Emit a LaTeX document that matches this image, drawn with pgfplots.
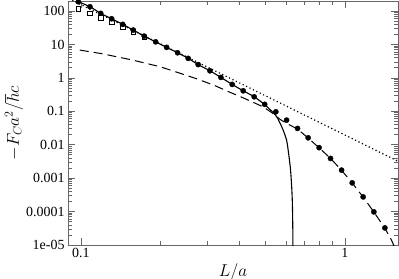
\documentclass[border=0pt]{standalone}
\usepackage{fontspec}
\setmainfont{Liberation Serif}
\usepackage{pgfplots}
\pgfplotsset{compat=1.18}
\pgfplotstableread{
x y
0.0977 189.8
0.1082 134.5
0.1188 85.3
0.1307 58.8
0.1439 40.0
0.1578 27.0
0.1737 17.8
0.1919 12.0
0.2112 8.19
0.2324 5.64
0.2549 3.84
0.2781 2.50
0.3081 1.63
0.3391 1.035
0.3742 0.638
0.4119 0.411
0.4533 0.272
0.4968 0.162
0.5477 0.0966
0.6014 0.0545
0.6618 0.0308
0.7261 0.0161
0.7991 0.00818
0.8826 0.00389
0.9716 0.00174
1.066 7.23e-4
1.173 2.75e-4
1.288 9.8e-5
1.418 3.25e-5
}\dots
\pgfplotstableread{
x y
0.0977 114.8
0.1082 85.3
0.1188 63.0
0.1307 45.9
0.1439 33.9
0.1578 23.5
0.1737 16.6
}\squares
\pgfplotstableread{
x y
0.0977 189.8
0.1082 134.5
0.1188 85.3
0.1307 58.8
0.1439 40.0
0.1578 27.0
0.1737 17.8
0.1919 12.0
0.2112 8.19
0.2324 5.64
0.2549 3.84
0.2781 2.50
0.3081 1.63
0.3391 1.035
0.3742 0.638
0.4119 0.411
0.4533 0.272
0.4968 0.158
0.5463 0.0769
0.5650 0.048
0.5838 0.02735
0.6014 0.01374
0.6098 0.00689
0.6226 0.00174
0.6315 2.75e-4
0.6350 3e-5
0.6370 1e-6
}\solid
\pgfplotstableread{
x y
0.099 6.8
0.12 5.3
0.156 3.45
0.2 2.15
0.2703 0.98
0.32 0.60
0.3614 0.39
0.40 0.28
0.45 0.185
0.4903 0.136
0.53 0.090
0.5672 0.058
0.60 0.044
0.6618 0.0295
0.7261 0.0158
0.7991 0.0081
0.8826 0.0039
0.9716 0.00172
1.066 7.2e-4
1.173 2.72e-4
1.288 9.7e-5
1.418 3.2e-5
1.503 1.39e-5
1.56 7e-6
}\dashed
\pgfplotstableread{
x y
0.09 235
1.6 0.00313
}\dotted
\begin{document}
\begin{tikzpicture}
\begin{axis}[
  at={(0,0)}, anchor=south west,
  xmode=log, ymode=log,
  width=330bp, height=244bp, scale only axis,
  xmin=0.0893, xmax=1.59, ymin=1e-5, ymax=200,
  xtick={0.1,1}, xticklabels={0.1,1},
  minor xtick={0.2,0.3,0.4,0.5,0.6,0.7,0.8,0.9},
  ytick={1e-5,1e-4,1e-3,1e-2,0.1,1,10,100},
  yticklabels={1e-05,0.0001,0.001,0.01,0.1,1,10,100},
  minor ytick={2e-5,3e-5,4e-5,5e-5,6e-5,7e-5,8e-5,9e-5,
    2e-4,3e-4,4e-4,5e-4,6e-4,7e-4,8e-4,9e-4,
    0.002,0.003,0.004,0.005,0.006,0.007,0.008,0.009,
    0.02,0.03,0.04,0.05,0.06,0.07,0.08,0.09,
    0.2,0.3,0.4,0.5,0.6,0.7,0.8,0.9,
    2,3,4,5,6,7,8,9,20,30,40,50,60,70,80,90},
  tick align=inside,
  major tick length=7bp, minor tick length=4bp,
  axis line style={black!60, line width=0.9bp},
  every tick/.style={black!60, line width=0.7bp},
  /pgf/number format/assume math mode=true,
  ticklabel style={font=\fontsize{14}{16}\selectfont, text=black},
  xlabel={$L/a$}, ylabel={$-F_C a^2/\hbar c$},
  label style={font=\fontsize{18}{20}\selectfont},
  xlabel style={at={(axis description cs:0.5,-0.112)}, anchor=center},
  ylabel style={at={(axis description cs:-0.1636,0.5)}, anchor=center},
]
\addplot[black, line width=1bp, dash pattern=on 9bp off 5bp] table {\dashed};
\addplot[black, line width=1.2bp, dash pattern=on 1.2bp off 2.6bp] table {\dotted};
\addplot[black, line width=1.1bp, smooth] table {\solid};
\addplot[only marks, mark=square, mark size=2.3bp, black, mark options={line width=0.6bp, fill=white}] table {\squares};
\addplot[only marks, mark=*, mark size=2.6bp, black] table {\dots};
\end{axis}
\pgfresetboundingbox
\path (-68bp,-34bp) rectangle (331bp,245bp);
\end{tikzpicture}
\end{document}
